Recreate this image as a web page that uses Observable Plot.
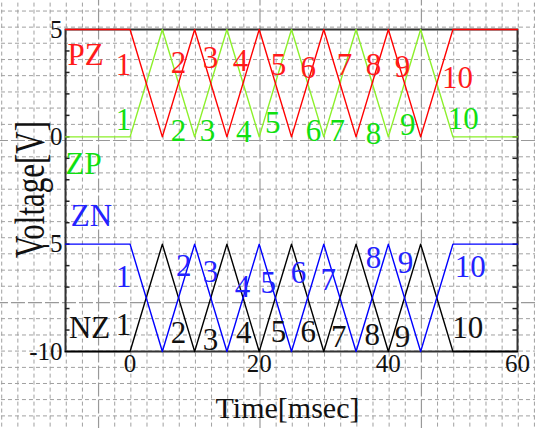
<!DOCTYPE html>
<html><head><meta charset="utf-8">
<script src="https://cdn.jsdelivr.net/npm/d3@7"></script>
<script src="https://cdn.jsdelivr.net/npm/@observablehq/plot@0.6"></script>
<style>
html,body{margin:0;padding:0;background:#fff;}
#chart{width:535px;height:428px;overflow:hidden;}
#chart svg text{font-family:"Liberation Serif","Times New Roman",serif !important;}
</style></head><body><div id="chart"></div>
<script>
// ---- data ----
const time = [-10, 0, 5, 10, 15, 20, 25, 30, 35, 40, 45, 50, 60];
const pz = [5, 5, 0, 5, 0, 5, 0, 5, 0, 5, 0, 5, 5];
const zp = [0, 0, 5, 0, 5, 0, 5, 0, 5, 0, 5, 0, 0];
const zn = [-5, -5, -10, -5, -10, -5, -10, -5, -10, -5, -10, -5, -5];
const nz = [-10, -10, -5, -10, -5, -10, -5, -10, -5, -10, -5, -10, -10];

const segNumbers = ["1", "2", "3", "4", "5", "6", "7", "8", "9", "10"];
const pzNumT = [-1.0, 7.5, 12.45, 17.1, 23.0, 27.6, 33.2, 37.7, 42.2, 50.7];
const pzNumV = [3.32, 3.42, 3.65, 3.55, 3.32, 3.18, 3.32, 3.32, 3.23, 2.72];
const zpNumT = [-1.0, 7.5, 12.0, 17.6, 22.1, 28.4, 32.1, 37.7, 43.0, 51.6];
const zpNumV = [0.76, 0.29, 0.29, 0.20, 0.62, 0.29, 0.29, 0.15, 0.53, 0.85];
const znNumT = [-1.0, 8.3, 12.45, 17.4, 21.4, 26.1, 30.7, 37.7, 42.65, 52.7];
const znNumV = [-6.55, -6.0, -6.32, -7.02, -6.83, -6.37, -6.69, -5.67, -5.9, -6.09];
const nzNumT = [-1.0, 7.5, 12.45, 17.6, 23.0, 27.6, 32.3, 37.5, 42.2, 52.3];
const nzNumV = [-8.79, -9.16, -9.49, -9.16, -9.11, -9.11, -9.35, -9.25, -9.35, -8.93];

const seriesNames = ["PZ", "ZP", "ZN", "NZ"];
const nameT = [-6.9, -7.2, -5.97, -6.27];
const nameV = [3.79, -1.29, -3.71, -8.93];

const xTicks = [0, 20, 40, 60];
const yTicks = [5, 0, -5, -10];
const yMinorTicks = [4, 3, 2, 1, 0, -1, -2, -3, -4, -5, -6, -7, -8, -9];

// graph-paper background lines (data units)
const gridT = [-19.88, -17.38, -14.88, -12.38, -9.88, -7.38, -2.38, 0.12, 2.62, 5.12, 7.62, 10.12, 12.62, 15.12, 17.62, 22.62, 25.12, 27.62, 30.12, 32.62, 35.12, 37.62, 40.12, 42.62, 47.62, 50.12, 52.62, 55.12, 57.62, 60.12, 62.62];
const gridTMajor = [-4.88, 20.12, 45.12];
const gridV = [5.86, 5.11, 4.36, 3.60, 2.85, 2.09, 1.34, 0.58, -0.93, -1.68, -2.44, -3.19, -3.95, -4.70, -5.45, -6.21, -6.96, -8.47, -9.23, -9.98, -10.74, -11.49, -12.24, -13.0];
const gridVMajor = [-0.17, -7.72];

// ---- build ----
const series = (vals) => time.map((t, i) => ({t, v: vals[i]}));
const idx = d3.range(segNumbers.length);
const serif = "Liberation Serif";

const numText = (T, V, fill) => Plot.text(idx, {
  x: i => T[i], y: i => V[i], text: i => segNumbers[i],
  fill, fontSize: 31, fontFamily: serif
});

const chart = Plot.plot({
  width: 535, height: 428,
  marginLeft: 65, marginRight: 18, marginTop: 29, marginBottom: 77,
  x: {domain: [-10, 60], label: null},
  y: {domain: [-10, 5], label: null},
  style: {fontFamily: serif, background: "#fff", color: "#111", overflow: "visible"},
  marks: [
    Plot.ruleX(gridT, {x: d => d, y1: -14.5, y2: 7, stroke: "#a0a0a0", strokeWidth: 1, strokeDasharray: "4,3"}),
    Plot.ruleY(gridV, {y: d => d, x1: -21, x2: 64, stroke: "#a0a0a0", strokeWidth: 1, strokeDasharray: "4,3"}),
    Plot.ruleX(gridTMajor, {x: d => d, y1: -14.5, y2: 7, stroke: "#999", strokeWidth: 1.2, strokeDasharray: "14,3"}),
    Plot.ruleY(gridVMajor, {y: d => d, x1: -21, x2: 64, stroke: "#999", strokeWidth: 1.2, strokeDasharray: "14,3"}),
    Plot.frame({stroke: "#333", strokeWidth: 2}),
    Plot.ruleY(yMinorTicks, {y: d => d, x1: -10, x2: -9.3, stroke: "#222", strokeWidth: 1.5}),
    Plot.ruleY(yMinorTicks, {y: d => d, x1: 59.3, x2: 60, stroke: "#222", strokeWidth: 1.5}),
    Plot.line(series(nz), {x: "t", y: "v", stroke: "#000", strokeWidth: 1.4}),
    Plot.line(series(zn), {x: "t", y: "v", stroke: "#0000ff", strokeWidth: 1.4}),
    Plot.line(series(zp), {x: "t", y: "v", stroke: "#8cf02a", strokeWidth: 1.4}),
    Plot.line(series(pz), {x: "t", y: "v", stroke: "#ff0000", strokeWidth: 1.4}),
    numText(pzNumT, pzNumV, "#ff1a1a"),
    numText(zpNumT, zpNumV, "#10e010"),
    numText(znNumT, znNumV, "#2222ff"),
    numText(nzNumT, nzNumV, "#111"),
    Plot.text(d3.range(4), {
      x: i => nameT[i], y: i => nameV[i], text: i => seriesNames[i],
      fill: i => ["#ff1a1a", "#10e010", "#2222ff", "#111"][i],
      fontSize: 31, fontFamily: serif
    }),
    Plot.axisX(xTicks, {tickSize: 0, tickPadding: 3, fontSize: 25, tickFormat: d => String(d), fill: "#111", label: null}),
    Plot.axisY(yTicks, {tickSize: 0, tickPadding: 3, fontSize: 25, tickFormat: d => String(d), fill: "#111", label: null}),
    Plot.text(["Time[msec]"], {text: d => d, frameAnchor: "bottom", textAnchor: "middle", lineAnchor: "middle", dx: -4, dy: 57, fontSize: 30, fill: "#111", fontFamily: serif}),
    Plot.text(["Voltage[V]"], {text: d => d, frameAnchor: "left", textAnchor: "middle", lineAnchor: "middle", dx: -35, dy: -1, rotate: -90, fontSize: 31, fill: "#111", fontFamily: serif})
  ]
});

// stretch the rotated y label across (as in the reference)
chart.querySelectorAll("text").forEach(t => {
  if (t.textContent === "Voltage[V]") {
    const tr = t.getAttribute("transform") || "";
    t.setAttribute("transform", tr + " scale(1,1.35)");
  }
});

document.getElementById("chart").appendChild(chart);
</script>
</body></html>
